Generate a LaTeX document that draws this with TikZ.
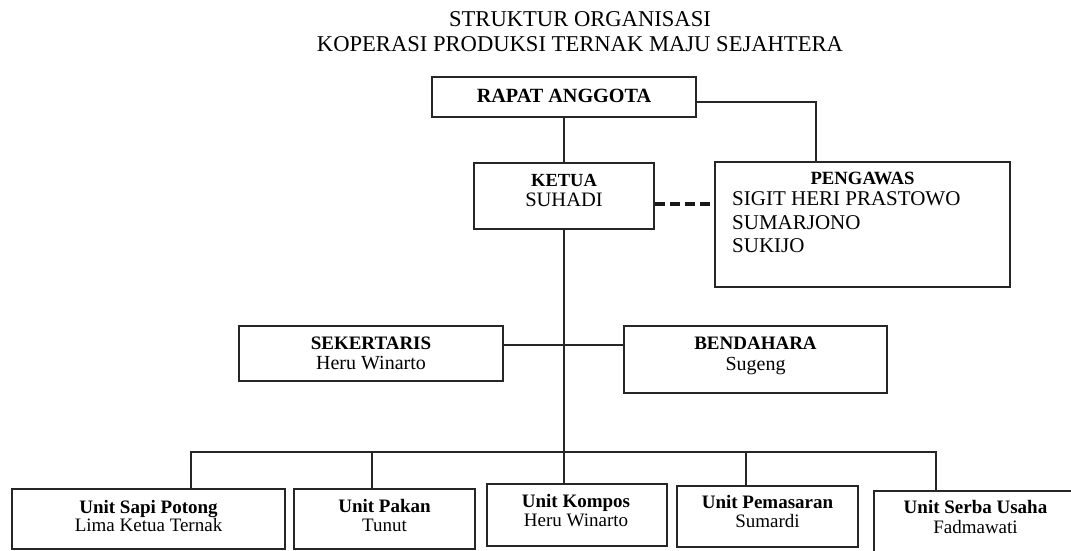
\documentclass[tikz,border=0pt]{standalone}
\usepackage{fontspec}
\setmainfont{Liberation Serif}
\usetikzlibrary{calc}
\tikzset{
  boxnode/.style={draw=black!85, line width=1.6pt, rectangle, inner sep=0pt},
  conn/.style={draw=black!85, line width=1.6pt},
  dashline/.style={draw=black!90, line width=3.6pt, dash pattern=on 10pt off 5pt},
  lbl/.style={inner sep=0pt, anchor=base, text=black},
  lbll/.style={inner sep=0pt, anchor=base west, text=black},
  ttl/.style={lbl, font=\fontsize{22.6}{26}\selectfont},
  hb/.style={lbl, font=\fontsize{19}{22}\bfseries\selectfont},
  hr/.style={lbl, font=\fontsize{19}{22}\selectfont},
  big/.style={font=\fontsize{21}{24}\selectfont},
}
\newcommand{\mkbox}[5]{\node[boxnode, minimum width=#4-#2, minimum height=#5-#3] (#1) at ({(#2+#4)/2},{(#3+#5)/2}) {};}
\begin{document}
\begin{tikzpicture}[x=1pt,y=-1pt]
\useasboundingbox (0,0) rectangle (1071,550);
\clip (0,0) rectangle (1071,550);
% title
\node[ttl] (t1) at (580,26) {STRUKTUR ORGANISASI};
\node[ttl] (t2) at (580,51) {KOPERASI PRODUKSI TERNAK MAJU SEJAHTERA};
% boxes
\mkbox{rapat}{432}{77}{696}{117}
\mkbox{ketua}{474}{163}{654}{229}
\mkbox{pengawas}{715}{162}{1010}{287}
\mkbox{sek}{239}{326}{503}{381}
\mkbox{bend}{624}{326}{887}{393}
\mkbox{sapi}{12}{489}{285}{549}
\mkbox{pakan}{294}{489}{475}{549}
\mkbox{kompos}{487}{484}{667}{546}
\mkbox{pemasaran}{677}{486}{858}{547}
\mkbox{serba}{874}{491}{1090}{570}
% labels
\node[hb, font=\fontsize{20.2}{24}\bfseries\selectfont] (rapatA) at (564,102) {RAPAT ANGGOTA};
\node[hb, font=\fontsize{18.5}{22}\bfseries\selectfont] (ketuaA) at (564,186) {KETUA};
\node[hr, font=\fontsize{20.5}{24}\selectfont] (ketuaB) at (564,206) {SUHADI};
\node[hb, font=\fontsize{18.7}{22}\bfseries\selectfont] (pengA) at (862.5,184) {PENGAWAS};
\node[lbll, big] (pengB) at (732,205) {SIGIT HERI PRASTOWO};
\node[lbll, big] (pengC) at (732,229) {SUMARJONO};
\node[lbll, big] (pengD) at (732,252) {SUKIJO};
\node[hb] (sekA) at (371,349) {SEKERTARIS};
\node[hr, font=\fontsize{20}{24}\selectfont] (sekB) at (371,369) {Heru Winarto};
\node[hb] (bendA) at (755.5,349) {BENDAHARA};
\node[hr, font=\fontsize{20}{24}\selectfont] (bendB) at (755.5,370) {Sugeng};
\node[hb] (sapiA) at (148.5,513) {Unit Sapi Potong};
\node[hr] (sapiB) at (148.5,531) {Lima Ketua Ternak};
\node[hb] (pakanA) at (384.5,512) {Unit Pakan};
\node[hr] (pakanB) at (384.5,531) {Tunut};
\node[hb] (komposA) at (576,507) {Unit Kompos};
\node[hr] (komposB) at (576,526) {Heru Winarto};
\node[hb] (pemA) at (767.5,508) {Unit Pemasaran};
\node[hr] (pemB) at (767.5,527) {Sumardi};
\node[hb] (serbaA) at (975.5,513) {Unit Serba Usaha};
\node[hr] (serbaB) at (975.5,533) {Fadmawati};
% connectors
\coordinate (rk) at ([yshift=-5pt]rapat.east);
\coordinate (pk) at ([xshift=-46.5pt]pengawas.north);
\draw[conn] (rapat.south) -- (ketua.north);
\draw[conn] (rk) -| (pk);
\coordinate (dk) at ([yshift=-8pt]ketua.east);
\draw[dashline] (dk) -- (dk -| pengawas.west);
\coordinate (sb) at ([yshift=8.5pt]sek.east);
\draw[conn] (sb) -- (sb -| bend.west);
\coordinate (busL) at (191,452);
\coordinate (busR) at (936,452);
\coordinate (busB) at (372,452);
\coordinate (busC) at (746,452);
\draw[conn] (ketua.south) -- (ketua.south |- busL);
\draw[conn] (busL |- sapi.north) -- (busL) -- (busR) -- (busR |- serba.north);
\draw[conn] (busB) -- (busB |- pakan.north);
\draw[conn] (ketua.south |- busL) -- (ketua.south |- kompos.north);
\draw[conn] (busC) -- (busC |- pemasaran.north);
\end{tikzpicture}
\end{document}
